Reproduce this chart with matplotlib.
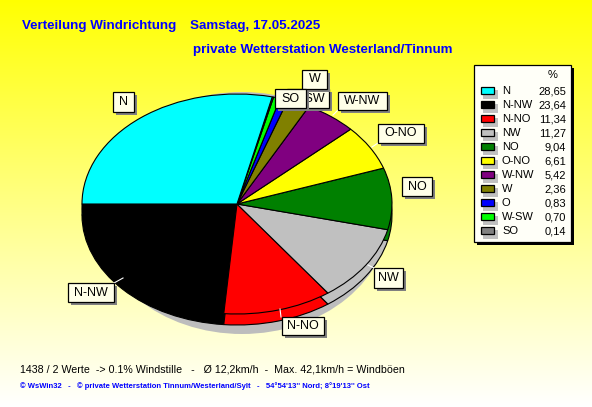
import numpy as np
import matplotlib
matplotlib.use("Agg")
import matplotlib.pyplot as plt
from matplotlib.patches import Rectangle, Ellipse

# values as in the legend (sorted)
legend_names = ["N", "N-NW", "N-NO", "NW", "NO", "O-NO", "W-NW", "W", "O", "W-SW", "SO"]
legend_values = [28.65, 23.64, 11.34, 11.27, 9.04, 6.61, 5.42, 2.36, 0.83, 0.70, 0.14]
legend_colors = ["#00ffff", "#000000", "#ff0000", "#c0c0c0", "#008000", "#ffff00",
                 "#800080", "#808000", "#0000ff", "#00ff00", "#808080"]

# order of the slices, counterclockwise from the left edge of the pie
pie_order = ["N-NW", "N-NO", "NW", "NO", "O-NO", "W-NW", "W", "O", "W-SW", "SO", "N"]

title_1a = "Verteilung Windrichtung"
title_1b = "Samstag, 17.05.2025"
title_2 = "private Wetterstation Westerland/Tinnum"
footer_1 = "1438 / 2 Werte  -> 0.1% Windstille   -   \u00d8 12,2km/h  -  Max. 42,1km/h = Windb\u00f6en"
footer_2 = "\u00a9 WsWin32   -   \u00a9 private Wetterstation Tinnum/Westerland/Sylt   -   54\u00b054'13'' Nord; 8\u00b019'13'' Ost"

plt.rcParams["font.family"] = ["Liberation Sans", "DejaVu Sans"]

W, H = 592, 407
cx, cy, rx, ry = 237, 204, 155, 110
depth = 11

fig = plt.figure(figsize=(W / 100, H / 100), dpi=100)

# background gradient, yellow to almost white
bg = fig.add_axes([0, 0, 1, 1])
grad = np.ones((H, 1, 3))
grad[:, 0, 2] = np.linspace(0, 1, H) ** 0.95
bg.imshow(grad, aspect="auto", extent=(0, W, H, 0))
bg.set_axis_off()

# pie axes: data units are pie radii, so the pie comes out as an ellipse
ax = fig.add_axes([0, 0, 1, 1], facecolor="none")
vals = [legend_values[legend_names.index(n)] for n in pie_order]
cols = [legend_colors[legend_names.index(n)] for n in pie_order]

ax.add_patch(Ellipse((5 / rx, -9 / ry), 2 * 148 / rx, 2 * 121 / ry, color="#bdbdbd", lw=0))
# side of the pie, then the top face
ax.pie(vals, colors=cols, startangle=180, radius=1, center=(0, -depth / ry),
       wedgeprops={"edgecolor": "black", "linewidth": 0.8}, frame=True)
ax.pie(vals, colors=cols, startangle=180, radius=1, center=(0, 0),
       wedgeprops={"edgecolor": "black", "linewidth": 0.8}, frame=True)
ax.set_aspect("auto")
ax.set_xlim(-cx / rx, (W - cx) / rx)
ax.set_ylim((cy - H) / ry, cy / ry)
ax.set_axis_off()

# overlay in pixel coordinates for labels and legend
ov = fig.add_axes([0, 0, 1, 1], facecolor="none")
ov.set_xlim(0, W)
ov.set_ylim(H, 0)
ov.set_axis_off()


def box(x0, y0, x1, y1, text, z, text_x=None):
    ov.add_patch(Rectangle((x0 + 3, y0 + 3), x1 - x0, y1 - y0, color="#808080", lw=0, zorder=z))
    ov.add_patch(Rectangle((x0, y0), x1 - x0, y1 - y0, fc="#ffffe8", ec="black", lw=0.9, zorder=z + 0.1))
    if text_x is None:
        text_x = (x0 + x1) / 2
    ov.text(text_x, (y0 + y1) / 2, text, ha="center", va="center", fontsize=9, zorder=z + 0.2)


# leader lines
leaders = [((114, 283), (123, 278)), ((374, 268), (368, 265)), ((281, 317), (280, 309)),
           ((378, 143), (372, 147)), ((338, 110), (333, 115))]
for a, b in leaders:
    ov.plot([a[0], b[0]], [a[1], b[1]], color="white", lw=0.8, zorder=2)

box(113, 92, 134, 112, "N", 3)
box(287, 89, 329, 108, "W-SW", 3, text_x=308)
box(302, 70, 327, 89, "W", 4)
box(275, 89, 306, 108, "SO", 5)
box(338, 92, 387, 110, "W-NW", 3)
box(378, 124, 424, 143, "O-NO", 3)
box(402, 177, 432, 196, "NO", 3)
box(374, 268, 403, 288, "NW", 3)
box(282, 317, 324, 335, "N-NO", 3)
box(68, 283, 114, 302, "N-NW", 3)

# legend
ov.add_patch(Rectangle((477, 68), 97, 177, color="black", lw=0, zorder=6))
ov.add_patch(Rectangle((474, 65), 97, 177, fc="#fffff8", ec="black", lw=0.9, zorder=6))
ov.text(553, 75, "%", ha="center", va="center", fontsize=8, zorder=7)
for i, (name, val, col) in enumerate(zip(legend_names, legend_values, legend_colors)):
    y = 91 + i * 14.03
    ov.add_patch(Rectangle((483, y - 1), 15, 9, color="#c0c0c0", lw=0, zorder=7))
    ov.add_patch(Rectangle((481, y - 4), 13, 7, fc=col, ec="black", lw=0.9, zorder=8))
    ov.text(502, y, name, ha="left", va="center", fontsize=8, zorder=8)
    ov.text(566, y, f"{val:.2f}".replace(".", ","), ha="right", va="center", fontsize=8, zorder=8)

# titles and footer
ov.text(22, 26, title_1a, color="#0000ff", fontweight="bold", fontsize=9.6, va="center")
ov.text(190, 26, title_1b, color="#0000ff", fontweight="bold", fontsize=9.6, va="center")
ov.text(193, 50, title_2, color="#0000ff", fontweight="bold", fontsize=9.6, va="center")
ov.text(20, 369, footer_1, color="black", fontsize=7.66, va="center")
ov.text(20, 386, footer_2, color="#0000ff", fontsize=5.5, fontweight="bold", va="center")

fig.savefig("out.png", dpi=100)
